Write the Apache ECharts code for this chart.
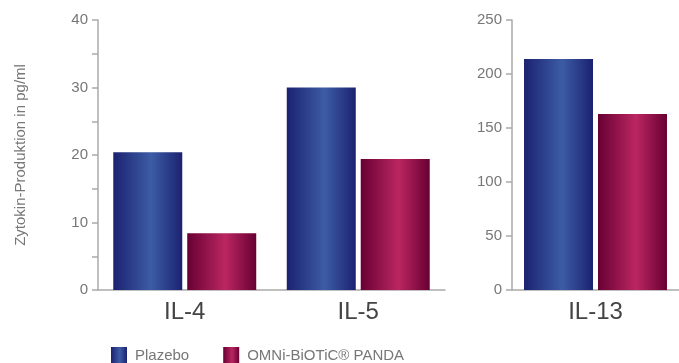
<!DOCTYPE html>
<html>
<head>
<meta charset="utf-8">
<script src="https://cdn.jsdelivr.net/npm/echarts@6/dist/echarts.min.js"></script>
<style>
  html, body { margin: 0; padding: 0; background: #fff; }
  #chart { width: 679px; height: 363px; }
</style>
</head>
<body>
<div id="chart"></div>
<script>
// Cytokine production (pg/ml), placebo vs. probiotic
const seriesNames = ['Plazebo', 'OMNi-BiOTiC\u00ae PANDA'];
const categoriesLeft = ['IL-4', 'IL-5'];
const categoriesRight = ['IL-13'];
const plazeboLeft = [20.4, 30];
const pandaLeft = [8.4, 19.4];
const plazeboRight = [214];
const pandaRight = [163];
const axisTitle = 'Zytokin-Produktion in pg/ml';

const FONT = '"Liberation Sans", Arial, Helvetica, sans-serif';

function hGrad(edge, mid) {
  return new echarts.graphic.LinearGradient(0, 0, 1, 0, [
    { offset: 0, color: edge },
    { offset: 0.55, color: mid },
    { offset: 1, color: edge }
  ]);
}
const blue = hGrad('#1b2270', '#3d5ca6');
const red = hGrad('#680033', '#bb2661');

const chart = echarts.init(document.getElementById('chart'), null, { renderer: 'canvas' });

const yAxisCommon = {
  type: 'value',
  axisLine: { show: true, lineStyle: { color: '#aaaaaa', width: 1.5 } },
  axisTick: { show: true, length: 6, lineStyle: { color: '#aaaaaa', width: 1.5 } },
  axisLabel: { color: '#777777', fontSize: 15, fontFamily: FONT, margin: 10 },
  splitLine: { show: false }
};
const xAxisCommon = {
  type: 'category',
  axisLine: { show: true, lineStyle: { color: '#aaaaaa', width: 1.5 } },
  axisTick: { show: false },
  axisLabel: { color: '#444444', fontSize: 24, fontFamily: FONT, margin: 10 }
};

const barCommon = { type: 'bar', barWidth: 69, barGap: '7.2%' };

chart.setOption({
  animation: false,
  backgroundColor: '#ffffff',
  grid: [
    { left: 98, right: 234, top: 20, bottom: 73 },
    { left: 512, right: -4, top: 20, bottom: 73 }
  ],
  xAxis: [
    Object.assign({}, xAxisCommon, { gridIndex: 0, data: categoriesLeft }),
    Object.assign({}, xAxisCommon, { gridIndex: 1, data: categoriesRight })
  ],
  yAxis: [
    Object.assign({}, yAxisCommon, {
      gridIndex: 0, min: 0, max: 40, interval: 10,
      minorTick: { show: true, splitNumber: 2, length: 6, lineStyle: { color: '#aaaaaa', width: 1.5 } },
      name: axisTitle,
      nameLocation: 'middle',
      nameGap: 70,
      nameRotate: 90,
      nameTextStyle: { color: '#777777', fontSize: 15, fontFamily: FONT }
    }),
    Object.assign({}, yAxisCommon, { gridIndex: 1, min: 0, max: 250, interval: 50 })
  ],
  legend: {
    left: 111,
    top: 347,
    padding: 0,
    itemWidth: 16,
    itemHeight: 18,
    itemGap: 34,
    icon: 'rect',
    textStyle: { color: '#777777', fontSize: 15, fontFamily: FONT, padding: [0, 0, 0, 3] },
    data: seriesNames
  },
  series: [
    Object.assign({}, barCommon, { name: seriesNames[0], xAxisIndex: 0, yAxisIndex: 0, data: plazeboLeft, itemStyle: { color: blue } }),
    Object.assign({}, barCommon, { name: seriesNames[1], xAxisIndex: 0, yAxisIndex: 0, data: pandaLeft, itemStyle: { color: red } }),
    Object.assign({}, barCommon, { name: seriesNames[0], xAxisIndex: 1, yAxisIndex: 1, data: plazeboRight, itemStyle: { color: blue } }),
    Object.assign({}, barCommon, { name: seriesNames[1], xAxisIndex: 1, yAxisIndex: 1, data: pandaRight, itemStyle: { color: red } })
  ]
});
</script>
</body>
</html>
